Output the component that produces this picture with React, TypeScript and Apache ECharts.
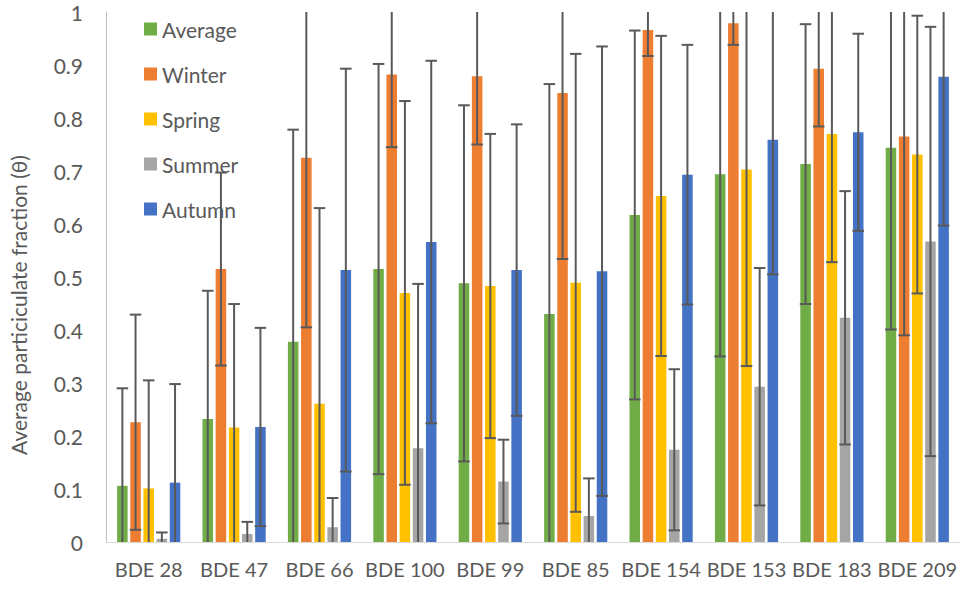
import React, { useEffect, useRef } from "react";
import * as echarts from "echarts";

const categories = ["BDE 28", "BDE 47", "BDE 66", "BDE 100", "BDE 99", "BDE 85", "BDE 154", "BDE 153", "BDE 183", "BDE 209"];
const seriesNames = ["Average", "Winter", "Spring", "Summer", "Autumn"];
const seriesColors = ["#70AD47", "#ED7D31", "#FFC000", "#A5A5A5", "#4472C4"];

const averageVals = [0.106, 0.232, 0.378, 0.515, 0.488, 0.43, 0.617, 0.694, 0.713, 0.744];
const averageErr = [0.184, 0.242, 0.40, 0.387, 0.336, 0.434, 0.348, 0.344, 0.264, 0.343];
const winterVals = [0.226, 0.515, 0.725, 0.882, 0.879, 0.847, 0.966, 0.979, 0.893, 0.765];
const winterErr = [0.203, 0.182, 0.32, 0.137, 0.129, 0.313, 0.049, 0.041, 0.109, 0.375];
const springVals = [0.101, 0.216, 0.261, 0.47, 0.483, 0.489, 0.653, 0.703, 0.77, 0.731];
const springErr = [0.204, 0.233, 0.369, 0.362, 0.287, 0.432, 0.302, 0.371, 0.242, 0.262];
const summerVals = [0.006, 0.015, 0.028, 0.177, 0.114, 0.049, 0.174, 0.293, 0.423, 0.567];
const summerErr = [0.012, 0.023, 0.055, 0.31, 0.079, 0.071, 0.152, 0.224, 0.239, 0.405];
const autumnVals = [0.112, 0.217, 0.513, 0.566, 0.513, 0.511, 0.693, 0.759, 0.773, 0.878];
const autumnErr = [0.186, 0.187, 0.38, 0.342, 0.275, 0.424, 0.245, 0.254, 0.186, 0.281];

const allVals = [averageVals, winterVals, springVals, summerVals, autumnVals];
const allErr = [averageErr, winterErr, springErr, summerErr, autumnErr];

const CAT_GAP = 0.26;
const BAR_GAP = 0.25;
const FONT = "Lato, 'Open Sans', sans-serif";
const TEXT_COLOR = "#595959";

export default function App() {
  const ref = useRef<HTMLDivElement>(null);

  useEffect(() => {
    document.body.style.margin = "0";
    if (!ref.current) return;
    const chart = echarts.init(ref.current, undefined, { renderer: "svg" });
    const n = seriesNames.length;

    const barSeries = seriesNames.map((name, i) => ({
      name,
      type: "bar",
      data: allVals[i],
      itemStyle: { color: seriesColors[i] },
      barGap: BAR_GAP * 100 + "%",
      barCategoryGap: CAT_GAP * 100 + "%",
      z: 2,
    }));

    const errSeries = seriesNames.map((name, si) => ({
      type: "custom",
      name: name + " error",
      z: 5,
      silent: true,
      data: allVals[si].map((v, ci) => [ci, v - allErr[si][ci], v + allErr[si][ci]]),
      renderItem: (params: any, api: any) => {
        const ci = api.value(0);
        const lo = api.value(1);
        const hi = api.value(2);
        const band = api.size([1, 0])[0];
        const used = band * (1 - CAT_GAP);
        const bw = used / (n + (n - 1) * BAR_GAP);
        const offset = -used / 2 + si * bw * (1 + BAR_GAP) + bw / 2;
        const x = api.coord([ci, 0])[0] + offset;
        const cLo = Math.max(lo, 0);
        const cHi = Math.min(hi, 1);
        const yLo = api.coord([ci, cLo])[1];
        const yHi = api.coord([ci, cHi])[1];
        const capHalf = bw / 2 + 0.5;
        const style = { stroke: "#595959", lineWidth: 2 };
        const children: any[] = [
          { type: "line", shape: { x1: x, y1: yLo, x2: x, y2: yHi }, style },
        ];
        if (hi <= 1) {
          children.push({ type: "line", shape: { x1: x - capHalf, y1: yHi, x2: x + capHalf, y2: yHi }, style });
        }
        if (lo >= 0) {
          children.push({ type: "line", shape: { x1: x - capHalf, y1: yLo, x2: x + capHalf, y2: yLo }, style });
        }
        return { type: "group", children };
      },
    }));

    chart.setOption({
      animation: false,
      grid: { left: 99, right: 0, top: 12, bottom: 48 },
      legend: {
        data: seriesNames,
        orient: "vertical",
        left: 139,
        top: 13,
        itemWidth: 13,
        itemHeight: 13,
        itemGap: 23,
        icon: "rect",
        textStyle: { fontFamily: FONT, fontSize: 21, color: TEXT_COLOR, lineHeight: 22 },
      },
      xAxis: {
        type: "category",
        data: categories,
        axisLine: { lineStyle: { color: "#D9D9D9", width: 1 } },
        axisTick: { show: false },
        axisLabel: { fontFamily: FONT, fontSize: 20, color: TEXT_COLOR, margin: 17, interval: 0 },
      },
      yAxis: {
        type: "value",
        min: 0,
        max: 1,
        interval: 0.1,
        name: "Average particiculate fraction (θ)",
        nameLocation: "middle",
        nameGap: 77,
        nameTextStyle: { fontFamily: FONT, fontSize: 21, color: TEXT_COLOR, padding: [0, 56, 0, 0] },
        axisLine: { show: true, lineStyle: { color: "#BFBFBF", width: 1 } },
        axisTick: { show: false },
        splitLine: { show: false },
        axisLabel: { fontFamily: FONT, fontSize: 21, color: TEXT_COLOR, margin: 23 },
      },
      series: [...barSeries, ...errSeries],
    });

    return () => chart.dispose();
  }, []);

  return <div ref={ref} style={{ width: 960, height: 590 }} />;
}
